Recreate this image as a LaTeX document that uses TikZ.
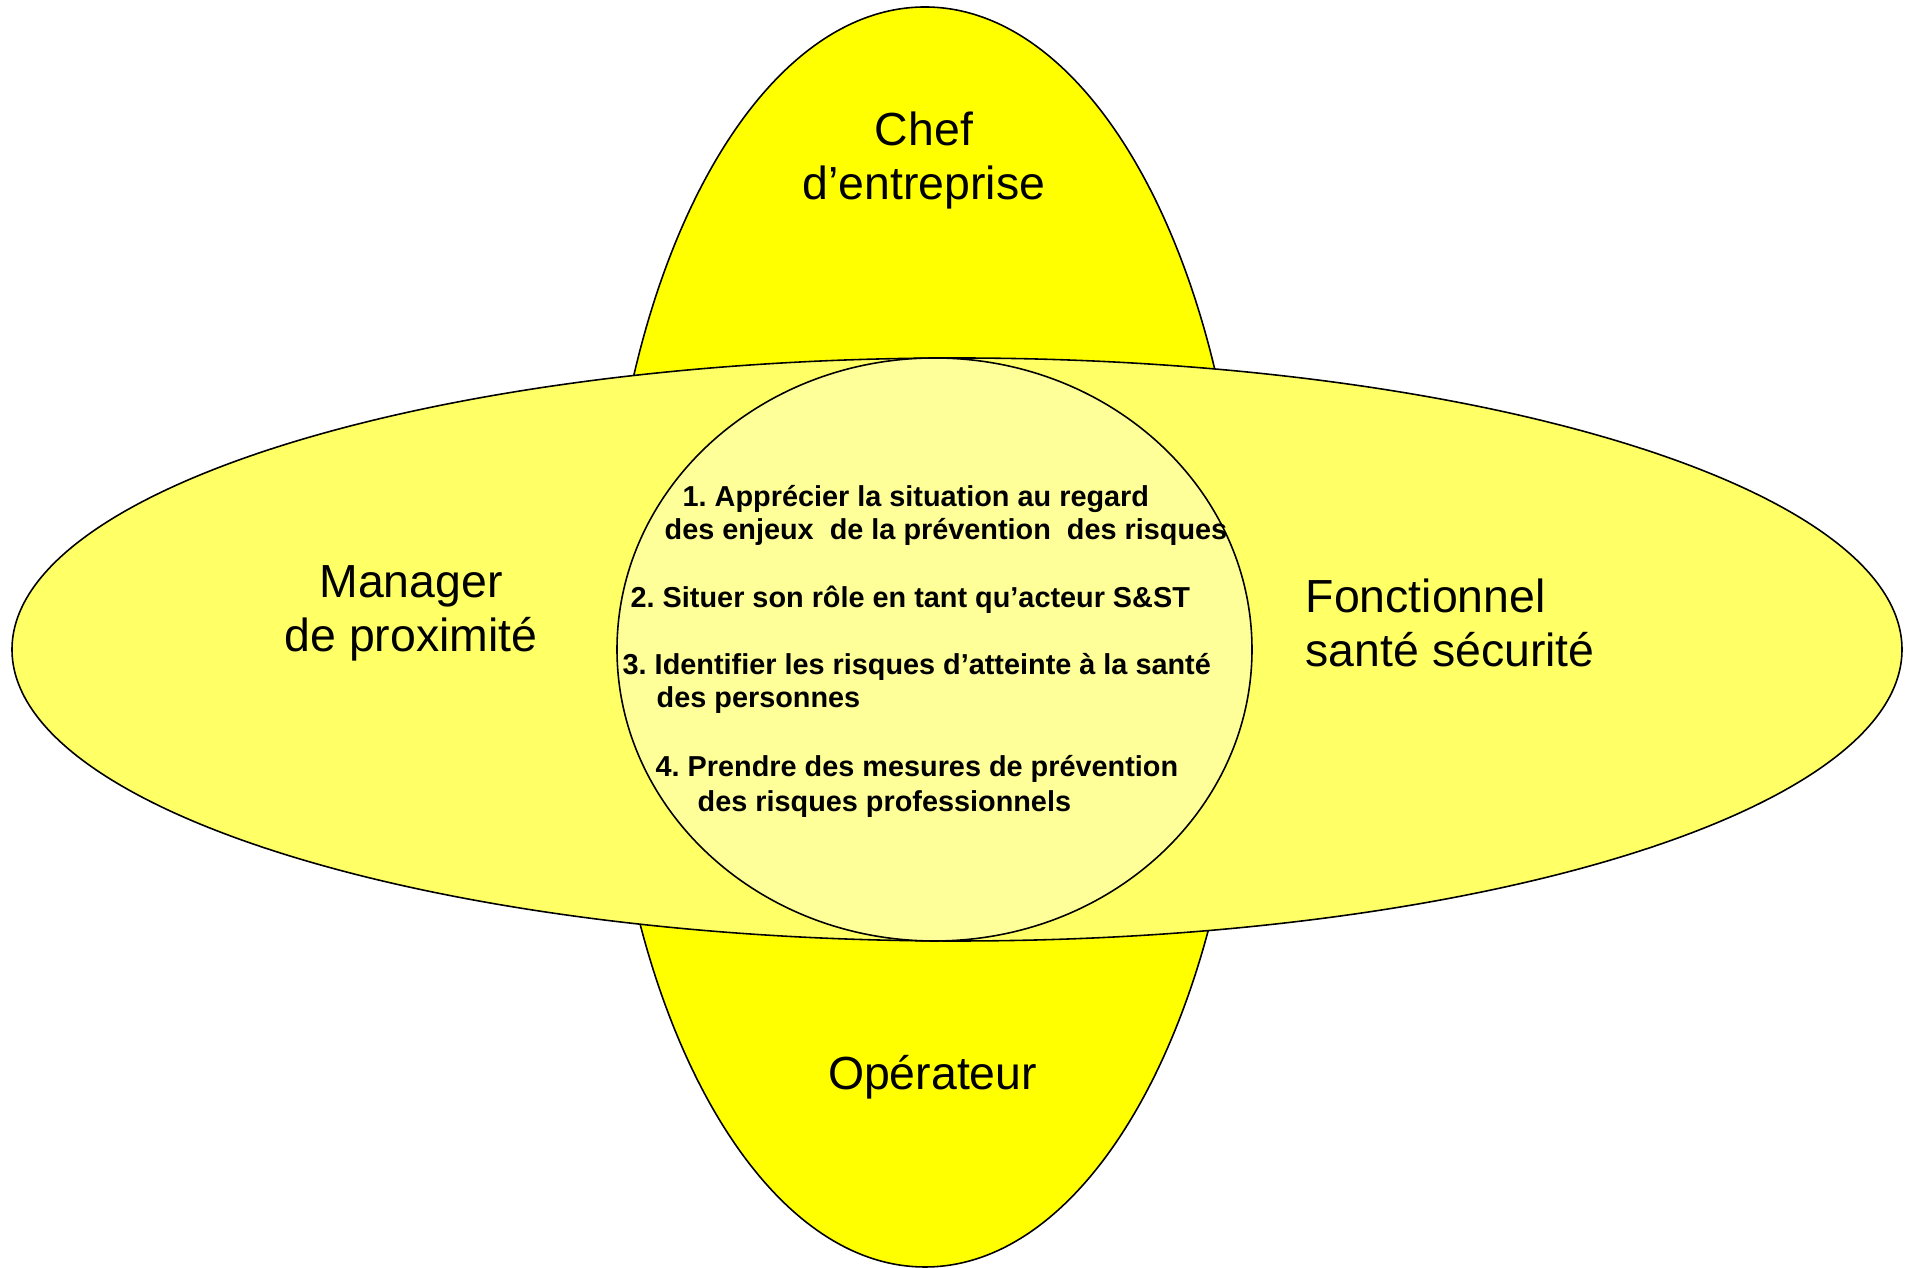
\documentclass[tikz,border=0pt]{standalone}
\usepackage{fontspec}
\setmainfont{Liberation Sans}
\frenchspacing
\definecolor{jauneFort}{HTML}{FFFF00}
\definecolor{jauneMoyen}{HTML}{FFFF66}
\definecolor{jaunePale}{HTML}{FFFF99}
\tikzset{
  zone/.style={draw=black,line width=0.45pt},
  acteur/.style={inner sep=0pt,anchor=base,align=center,
    font=\fontsize{13.2}{15.6}\selectfont},
  etape/.style={inner sep=0pt,anchor=base west,
    font=\fontsize{8.2}{9.4}\selectfont\bfseries}
}

\begin{document}
\begin{tikzpicture}[line cap=round,line join=round,x=0.01cm,y=-0.01cm]
\useasboundingbox (0,0) rectangle (1908,1268);
% les trois zones
\draw [zone,fill=jauneFort] (925,637) ellipse [x radius=320,y radius=630];
\draw [zone,fill=jauneMoyen] (957,649.5) ellipse [x radius=945,y radius=291.5];
\draw [zone,fill=jaunePale] (934.5,649.5) ellipse [x radius=317.5,y radius=291.5];
% les acteurs
\node[acteur] (chef) at (924,200) {Chef\\d’entreprise};
\node[acteur] (manager) at (411,652) {Manager\\de proximité};
\node[acteur,anchor=base west,align=left] (fonctionnel) at (1305,667) {Fonctionnel\\santé sécurité};
\node[acteur] (operateur) at (932.5,1090) {Opérateur};
% les etapes
\node[etape] (etape1a) at (682,507) {1. Apprécier la situation au regard};
\node[etape] (etape1b) at (664,540) {des enjeux\ \ de la prévention\ \ des risques};
\node[etape] (etape2) at (630,608) {2. Situer son rôle en tant qu’acteur S\&ST};
\node[etape] (etape3a) at (622,675) {3. Identifier les risques d’atteinte à la santé};
\node[etape] (etape3b) at (656,708) {des personnes};
\node[etape] (etape4a) at (655,777) {4. Prendre des mesures de prévention};
\node[etape] (etape4b) at (697,812) {des risques professionnels};
\end{tikzpicture}
\end{document}
